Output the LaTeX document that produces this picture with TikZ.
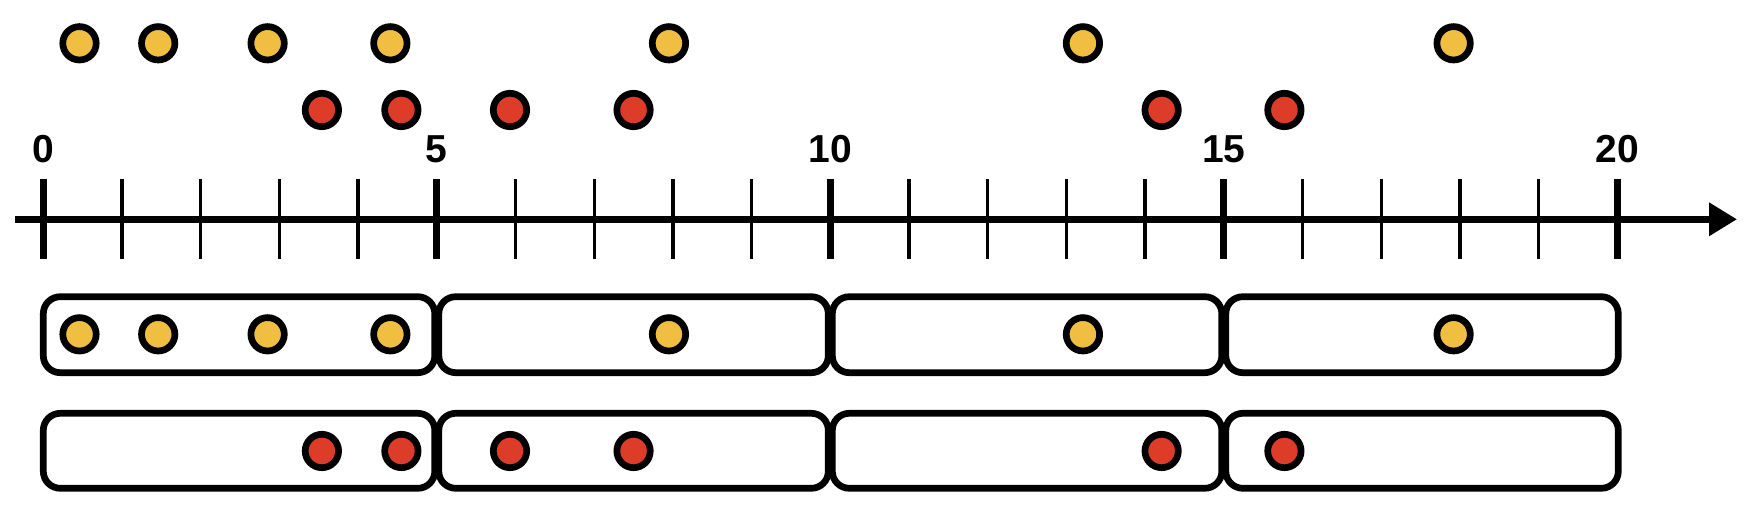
\documentclass[tikz,border=0pt]{standalone}
\usepackage{fontspec}
\setmainfont{Liberation Sans}
\usetikzlibrary{arrows.meta}
\definecolor{dotyellow}{HTML}{F0BE41}
\definecolor{dotred}{HTML}{DC3C28}
\begin{document}
\begin{tikzpicture}[x=0.5pt,y=-0.5pt,
  axisline/.style={line width=3.35pt},
  majortick/.style={line width=3.5pt},
  minortick/.style={line width=1.7pt},
  ticklabel/.style={inner sep=0pt,font=\bfseries\fontsize{19.5}{20}\selectfont},
  dotbase/.style={circle,draw=black,line width=3.35pt,minimum size=16.7pt,inner sep=0pt},
  ydot/.style={dotbase,fill=dotyellow},
  rdot/.style={dotbase,fill=dotred},
  binbox/.style={draw=black,line width=3.35pt,rounded corners=8.5pt}]
\useasboundingbox (0,0) rectangle (1750,506);
\def\ox{43.3}
\def\ux{78.7}
% axis
\coordinate (axs) at (15,219.3);
\coordinate (axe) at (1737,219.3);
\draw[axisline,-{Triangle[length=14pt,width=16pt]}] (axs) -- (axe);
\foreach \v in {1,2,3,4,6,7,8,9,11,12,13,14,16,17,18,19}
  \draw[minortick] ({\ox+\ux*\v},179) -- ({\ox+\ux*\v},259);
\foreach \v in {0,5,10,15,20}{
  \draw[majortick] ({\ox+\ux*\v},179) -- ({\ox+\ux*\v},259);
  \node[ticklabel] (lab\v) at ({\ox+\ux*\v},149) {\v};
}
% top rows of dots
\foreach \v [count=\i] in {0.46,1.46,2.85,4.41,7.95,13.21,17.92}
  \node[ydot] (ty\i) at ({\ox+\ux*\v},43.3) {};
\foreach \v [count=\i] in {3.54,4.55,5.93,7.50,14.21,15.77}
  \node[rdot] (tr\i) at ({\ox+\ux*\v},110) {};
% bins
\foreach \k/\a/\b in {0/0/2,1/2/2,2/2/2,3/2/-1}{
  \draw[binbox] ({\ox+\ux*5*\k+\a},296.7) rectangle ({\ox+\ux*5*(\k+1)-\b},372.7);
  \draw[binbox] ({\ox+\ux*5*\k+\a},413.3) rectangle ({\ox+\ux*5*(\k+1)-\b},488.3);
}
\foreach \v [count=\i] in {0.46,1.46,2.85,4.41,7.95,13.21,17.92}
  \node[ydot] (by\i) at ({\ox+\ux*\v},334.3) {};
\foreach \v [count=\i] in {3.54,4.55,5.93,7.50,14.21,15.77}
  \node[rdot] (br\i) at ({\ox+\ux*\v},451) {};
\end{tikzpicture}
\end{document}
